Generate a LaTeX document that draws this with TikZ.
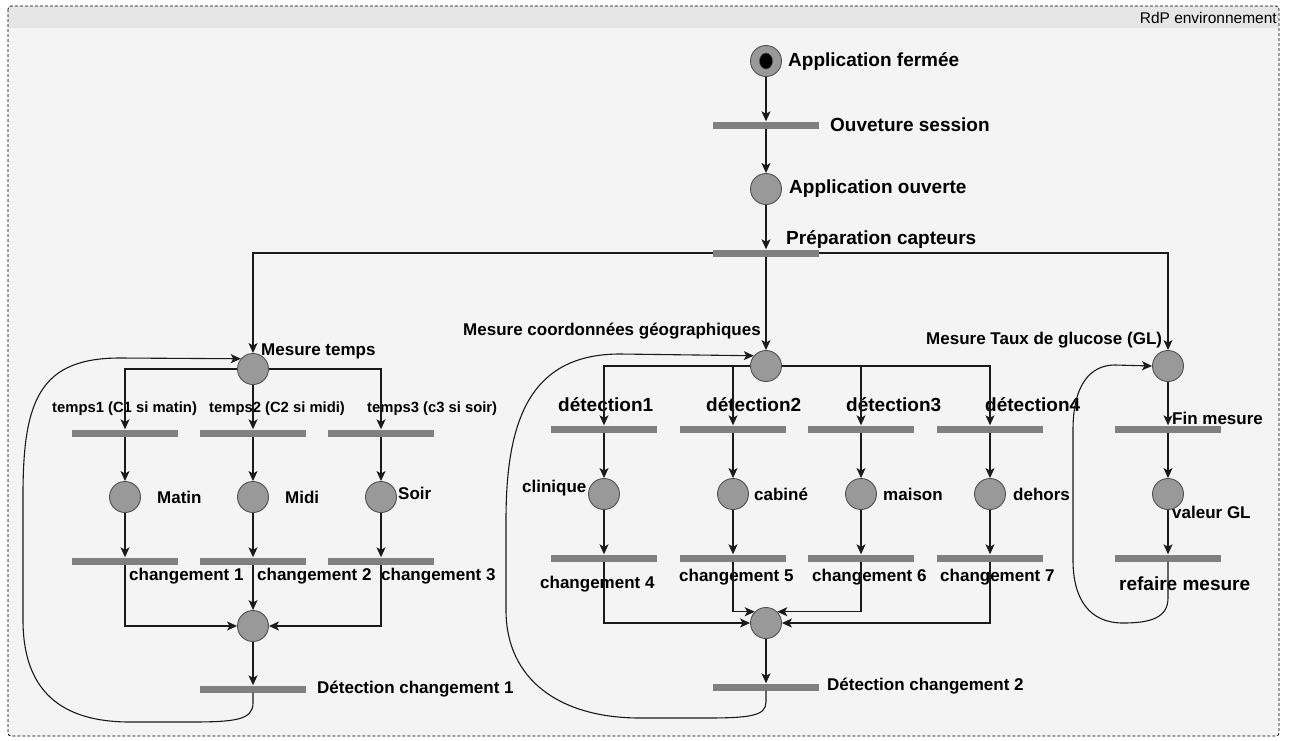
\documentclass[tikz,border=0pt]{standalone}
\usepackage{fontspec}
\setmainfont{Liberation Sans}
\usetikzlibrary{arrows.meta}
\definecolor{bodyfill}{HTML}{F4F4F4}
\definecolor{headfill}{HTML}{E6E6E6}
\definecolor{placefill}{HTML}{999999}
\definecolor{placeline}{HTML}{505050}
\definecolor{barfill}{HTML}{808080}
\definecolor{arccol}{HTML}{1A1A1A}
\begin{document}
\begin{tikzpicture}[x=1pt,y=-1pt,
  place/.style={circle,draw=placeline,fill=placefill,line width=0.9pt,minimum size=31pt,inner sep=0pt},
  trans/.style={rectangle,fill=barfill,minimum width=106pt,minimum height=7pt,inner sep=0pt},
  arc/.style={draw=arccol,line width=1.1pt,-{Stealth[length=10pt,width=9pt,inset=2.5pt]}},
  lbl/.style={inner sep=0pt,anchor=west,font=\fontsize{17}{17}\selectfont\bfseries},
  lblbig/.style={inner sep=0pt,anchor=west,font=\fontsize{19}{19}\selectfont\bfseries},
  lblsmall/.style={inner sep=0pt,anchor=west,font=\fontsize{14.8}{15}\selectfont\bfseries}]
\useasboundingbox (0,0) rectangle (1291,740);
\fill[white] (0,0) rectangle (1291,740);
% frame
\fill[bodyfill,rounded corners=3pt] (8,6) rectangle (1279,736);
\fill[headfill] (8,28) [rounded corners=3pt] -- (8,6) -- (1279,6) [sharp corners] -- (1279,28) -- cycle;
\draw[black,dash pattern=on 3pt off 2pt,line width=0.8pt,rounded corners=3pt] (8,6) rectangle (1279,736);
\node[anchor=east,inner sep=0pt,font=\fontsize{15.5}{16}\selectfont] (title) at (1277,18) {RdP environnement};

% top chain
\node[place] (P0) at (766,61) {};
\fill[black,draw=placeline,line width=0.5pt] (P0.center) ellipse [x radius=6.5pt,y radius=8pt];
\node[trans] (T0) at (766,125) {};
\node[place] (P1) at (766,189) {};
\node[trans] (T1) at (766,253) {};

% left block
\node[place] (MT) at (253,369) {};
\node[trans] (tA) at (125,433) {};
\node[trans] (tB) at (253,433) {};
\node[trans] (tC) at (381,433) {};
\node[place] (pA) at (125,497) {};
\node[place] (pB) at (253,497) {};
\node[place] (pC) at (381,497) {};
\node[trans] (cA) at (125,561) {};
\node[trans] (cB) at (253,561) {};
\node[trans] (cC) at (381,561) {};
\node[place] (J1) at (253,626) {};
\node[trans] (D1) at (253,689) {};

% middle block
\node[place] (MG) at (766,366) {};
\node[trans] (t4) at (604,429) {};
\node[trans] (t5) at (733,429) {};
\node[trans] (t6) at (861,429) {};
\node[trans] (t7) at (990,429) {};
\node[place] (p4) at (604,494) {};
\node[place] (p5) at (733,494) {};
\node[place] (p6) at (861,494) {};
\node[place] (p7) at (990,494) {};
\node[trans] (c4) at (604,558) {};
\node[trans] (c5) at (733,558) {};
\node[trans] (c6) at (861,558) {};
\node[trans] (c7) at (990,558) {};
\node[place] (J2) at (766,623) {};
\node[trans] (D2) at (766,687) {};

% right block
\node[place] (MGL) at (1168,366) {};
\node[trans] (tG) at (1168,429) {};
\node[place] (pG) at (1168,494) {};
\node[trans] (cG) at (1168,558) {};

% labels
\node[lblbig] (l0) at (788,61) {Application fermée};
\node[lblbig] (l1) at (830,125) {Ouveture session};
\node[lblbig] (l2) at (789,189) {Application ouverte};
\node[lblbig] (l3) at (786,239) {Préparation capteurs};
\node[lbl] (l4) at (261,351) {Mesure temps};
\node[lblsmall] (l5) at (52,409) {temps1 (C1 si matin)};
\node[lblsmall] (l6) at (209,409) {temps2 (C2 si midi)};
\node[lblsmall] (l7) at (367,409) {temps3 (c3 si soir)};
\node[lbl] (l8) at (157,497) {Matin};
\node[lbl] (l9) at (285,497) {Midi};
\node[lbl] (l10) at (398,493) {Soir};
\node[lbl] (l11) at (129,576) {changement 1};
\node[lbl] (l12) at (257,576) {changement 2};
\node[lbl] (l13) at (381,576) {changement 3};
\node[lbl] (l14) at (317,689) {Détection changement 1};
\node[lbl] (l15) at (463,331) {Mesure coordonnées géographiques};
\node[lblbig] (l16) at (558,405) {détection1};
\node[lblbig] (l17) at (706,405) {détection2};
\node[lblbig] (l18) at (846,405) {détection3};
\node[lblbig] (l19) at (985,405) {détection4};
\node[lbl] (l20) at (522,488) {clinique};
\node[lbl] (l21) at (754,494) {cabiné};
\node[lbl] (l22) at (883,494) {maison};
\node[lbl] (l23) at (1013,494) {dehors};
\node[lbl] (l24) at (540,584) {changement 4};
\node[lbl] (l25) at (679,577) {changement 5};
\node[lbl] (l26) at (812,577) {changement 6};
\node[lbl] (l27) at (940,577) {changement 7};
\node[lbl] (l28) at (827,686) {Détection changement 2};
\node[lbl] (l29) at (926,340) {Mesure Taux de glucose (GL)};
\node[lbl] (l30) at (1172,418) {Fin mesure};
\node[lbl] (l31) at (1172,512) {valeur GL};
\node[lblbig] (l32) at (1119,584) {refaire mesure};

% top connectors
\draw[arc] (P0) -- (T0);
\draw[arc] (T0) -- (P1);
\draw[arc] (P1) -- (T1);
\draw[arc] (T1) -- (MG);
\draw[arc] (T1.west) -| (MT);
\draw[arc] (T1.east) -| (MGL);

% left connectors
\draw[arc] (MT.west) -| (tA);
\draw[arc] (MT) -- (tB);
\draw[arc] (MT.east) -| (tC);
\draw[arc] (tA) -- (pA);
\draw[arc] (tB) -- (pB);
\draw[arc] (tC) -- (pC);
\draw[arc] (pA) -- (cA);
\draw[arc] (pB) -- (cB);
\draw[arc] (pC) -- (cC);
\draw[arc] (cA) |- (J1);
\draw[arc] (cB) -- (J1);
\draw[arc] (cC) |- (J1);
\draw[arc] (J1) -- (D1);
\draw[arc] (D1) -- (253,703) .. controls (253,720) and (235,722) .. (190,722) -- (130,722)
  .. controls (60,722) and (23,690) .. (23,620) -- (23,495)
  .. controls (23,400) and (40,358) .. (120,358) -- (MT.140);

% middle connectors
\draw[arc] (MG.west) -| (t4);
\draw[arc] (MG.west) -| (t5);
\draw[arc] (MG.east) -| (t6);
\draw[arc] (MG.east) -| (t7);
\draw[arc] (t4) -- (p4);
\draw[arc] (t5) -- (p5);
\draw[arc] (t6) -- (p6);
\draw[arc] (t7) -- (p7);
\draw[arc] (p4) -- (c4);
\draw[arc] (p5) -- (c5);
\draw[arc] (p6) -- (c6);
\draw[arc] (p7) -- (c7);
\draw[arc] (c4) |- (J2);
\draw[arc] (c5) |- (J2.135);
\draw[arc] (c6) |- (J2.45);
\draw[arc] (c7) |- (J2);
\draw[arc] (J2) -- (D2);
\draw[arc] (D2) -- (766,702) .. controls (766,716) and (750,718) .. (705,718) -- (640,718)
  .. controls (560,718) and (506,680) .. (506,610) -- (506,520)
  .. controls (506,420) and (530,354) .. (620,354) -- (MG.140);

% right connectors
\draw[arc] (MGL) -- (tG);
\draw[arc] (tG) -- (pG);
\draw[arc] (pG) -- (cG);
\draw[arc] (cG) -- (1168,598) .. controls (1168,618) and (1150,623) .. (1123,623)
  .. controls (1090,623) and (1073,600) .. (1073,560) -- (1073,430)
  .. controls (1073,385) and (1090,365) .. (1115,365) -- (MGL.west);
\end{tikzpicture}
\end{document}
